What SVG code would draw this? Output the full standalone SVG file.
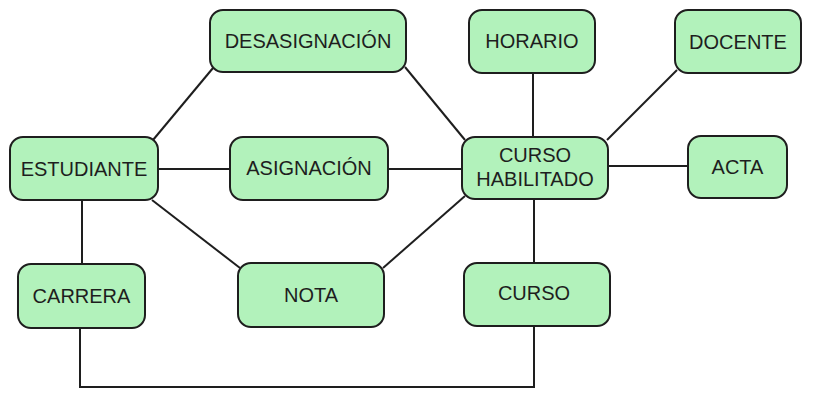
<svg xmlns="http://www.w3.org/2000/svg" width="813" height="410" viewBox="0 0 813 410">
<style>
.n rect{fill:#b2f2bb;stroke:#1e1e1e;stroke-width:2}
.n text{font-family:"Liberation Sans",Arial,sans-serif;font-size:20px;fill:#1e1e1e;text-anchor:middle}
.c{stroke:#1e1e1e;stroke-width:2;fill:none}
</style>
<rect width="813" height="410" fill="#fff"/>
<g id="connectors" class="c">
<line x1="153" y1="140" x2="213" y2="68"/>
<line x1="158" y1="169" x2="230" y2="169"/>
<line x1="388" y1="169" x2="462" y2="169"/>
<line x1="405" y1="67" x2="465" y2="140"/>
<line x1="533" y1="73" x2="533" y2="137"/>
<line x1="677" y1="70" x2="607" y2="140"/>
<line x1="608" y1="166" x2="688" y2="166"/>
<line x1="152" y1="200" x2="240" y2="268"/>
<line x1="383" y1="268" x2="465" y2="196"/>
<line x1="534" y1="199" x2="534" y2="263"/>
<line x1="82" y1="200" x2="82" y2="264"/>
<polyline points="80,328 80,387 534,387 534,326"/>
</g>
<g id="desasignacion" class="n"><rect x="210" y="10" width="196" height="62" rx="13"/><text x="308" y="48">DESASIGNACIÓN</text></g>
<g id="horario" class="n"><rect x="469" y="10" width="126" height="63" rx="13"/><text x="532" y="48">HORARIO</text></g>
<g id="docente" class="n"><rect x="675" y="10" width="126" height="63" rx="13"/><text x="738" y="49">DOCENTE</text></g>
<g id="estudiante" class="n"><rect x="10" y="137" width="148" height="63" rx="13"/><text x="84" y="176">ESTUDIANTE</text></g>
<g id="asignacion" class="n"><rect x="230" y="137" width="158" height="63" rx="13"/><text x="309" y="175">ASIGNACIÓN</text></g>
<g id="curso-habilitado" class="n"><rect x="462" y="137" width="146" height="62" rx="13"/><text x="535" y="162">CURSO</text><text x="535" y="186">HABILITADO</text></g>
<g id="acta" class="n"><rect x="688" y="136" width="99" height="62" rx="13"/><text x="737.5" y="174">ACTA</text></g>
<g id="carrera" class="n"><rect x="18" y="264" width="127" height="64" rx="13"/><text x="81.5" y="303">CARRERA</text></g>
<g id="nota" class="n"><rect x="238" y="263" width="146" height="64" rx="13"/><text x="311" y="302">NOTA</text></g>
<g id="curso" class="n"><rect x="464" y="263" width="146" height="63" rx="13"/><text x="534" y="300">CURSO</text></g>
</svg>
